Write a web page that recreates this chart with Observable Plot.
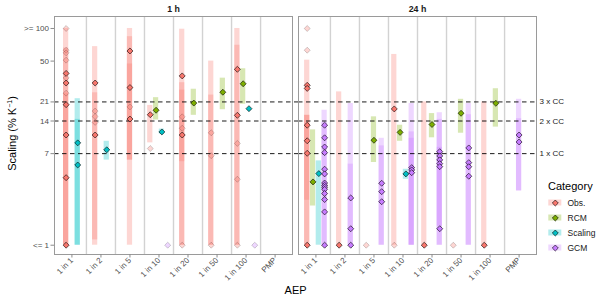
<!DOCTYPE html>
<html><head><meta charset="utf-8">
<script src="https://cdn.jsdelivr.net/npm/d3@7"></script>
<script src="https://cdn.jsdelivr.net/npm/@observablehq/plot@0.6"></script>
<style>
body{margin:0;background:#fff;font-family:"Liberation Sans",Arial,sans-serif;}
#wrap{position:relative;width:600px;height:302px;overflow:hidden;}
.ov{position:absolute;white-space:nowrap;color:#000;line-height:1;}
sup{font-size:7px;vertical-align:4px;line-height:0;}
</style></head><body>
<div id="wrap"></div>
<script>
const facets = ["1 h", "24 h"];
const aeps = ["1 in 1", "1 in 2", "1 in 5", "1 in 10", "1 in 20", "1 in 50", "1 in 100", "PMP"];
const categories = ["Obs.", "RCM", "Scaling", "GCM"];
const categoryColors = ["#F8766D", "#7CAE00", "#00BFC4", "#C77CFF"];
const yTicks = [1, 7, 14, 21, 50, 100];
const yTickLabels = ["<= 1", "7", "14", "21", "50", ">= 100"];
const ccLevels = [7, 14, 21];
const ccLabels = ["1 x CC", "2 x CC", "3 x CC"];

// [duration, AEP, category, low, high]
const rangeRows = [
  ["1 h","1 in 1","Obs.",1,100], ["1 h","1 in 1","Obs.",1,66], ["1 h","1 in 1","Obs.",1,25],
  ["1 h","1 in 1","Scaling",1,22.5], ["1 h","1 in 1","Scaling",1,14.5],
  ["1 h","1 in 2","Obs.",1,68], ["1 h","1 in 2","Obs.",1.12,25.5],
  ["1 h","1 in 2","Scaling",6.1,9.1],
  ["1 h","1 in 5","Obs.",1,100], ["1 h","1 in 5","Obs.",6.1,84], ["1 h","1 in 5","Obs.",6.1,47],
  ["1 h","1 in 10","Obs.",8.8,19.5], ["1 h","1 in 10","RCM",14.3,23], ["1 h","1 in 10","Scaling",10.6,11.8],
  ["1 h","1 in 20","Obs.",1,98.5], ["1 h","1 in 20","Obs.",1,31.6], ["1 h","1 in 20","Obs.",5.9,27],
  ["1 h","1 in 20","RCM",15.8,27.5],
  ["1 h","1 in 50","Obs.",1,50], ["1 h","1 in 50","Obs.",1,24.3], ["1 h","1 in 50","RCM",17.8,34.8],
  ["1 h","1 in 100","Obs.",1,100], ["1 h","1 in 100","Obs.",1,70], ["1 h","1 in 100","RCM",20,42.5],
  ["24 h","1 in 1","Obs.",1,51], ["24 h","1 in 1","Obs.",1,15.8], ["24 h","1 in 1","Obs.",2.6,15.8],
  ["24 h","1 in 1","RCM",2.3,11.6], ["24 h","1 in 1","Scaling",1,6.0],
  ["24 h","1 in 1","GCM",1,17.6], ["24 h","1 in 1","GCM",1,13.5],
  ["24 h","1 in 2","Obs.",1,26], ["24 h","1 in 2","GCM",1,20.3], ["24 h","1 in 2","GCM",1,5.6],
  ["24 h","1 in 5","RCM",5.8,15.3], ["24 h","1 in 5","GCM",1,9.7], ["24 h","1 in 5","GCM",1,8.25],
  ["24 h","1 in 10","Obs.",1,57.6], ["24 h","1 in 10","RCM",9.1,12.8], ["24 h","1 in 10","Scaling",4.06,5.02],
  ["24 h","1 in 10","GCM",1,20.3], ["24 h","1 in 10","GCM",1,11.1], ["24 h","1 in 10","GCM",1,9.7],
  ["24 h","1 in 20","Obs.",1,21], ["24 h","1 in 20","RCM",9.8,16.4],
  ["24 h","1 in 20","GCM",1,16.7], ["24 h","1 in 20","GCM",1,14.5], ["24 h","1 in 20","GCM",1.5,8],
  ["24 h","1 in 50","RCM",10.8,22.2], ["24 h","1 in 50","GCM",1,20.3], ["24 h","1 in 50","GCM",1,16],
  ["24 h","1 in 100","Obs.",1,21], ["24 h","1 in 100","RCM",12.3,27.8],
  ["24 h","PMP","GCM",3.17,22.2], ["24 h","PMP","GCM",3.17,14.7]
];

// [duration, AEP, category, value, solid]
const pointRows = [
  ["1 h","1 in 1","Obs.",100,false], ["1 h","1 in 1","Obs.",63,false], ["1 h","1 in 1","Obs.",59.6,false],
  ["1 h","1 in 1","Obs.",51,false], ["1 h","1 in 1","Obs.",35,false], ["1 h","1 in 1","Obs.",25.3,false],
  ["1 h","1 in 1","Obs.",38.5,true], ["1 h","1 in 1","Obs.",31.4,true], ["1 h","1 in 1","Obs.",19.8,true],
  ["1 h","1 in 1","Obs.",10.4,true], ["1 h","1 in 1","Obs.",4.2,true], ["1 h","1 in 1","Obs.",1,true],
  ["1 h","1 in 1","Scaling",8.8,true], ["1 h","1 in 1","Scaling",5.5,true],
  ["1 h","1 in 2","Obs.",31.4,true], ["1 h","1 in 2","Obs.",10.4,true],
  ["1 h","1 in 2","Obs.",17.3,false], ["1 h","1 in 2","Obs.",15.4,false], ["1 h","1 in 2","Obs.",13.6,false],
  ["1 h","1 in 2","Scaling",7.6,true],
  ["1 h","1 in 5","Obs.",62,true], ["1 h","1 in 5","Obs.",28.5,true], ["1 h","1 in 5","Obs.",14.6,true],
  ["1 h","1 in 5","Obs.",18.9,false],
  ["1 h","1 in 10","Obs.",16,true], ["1 h","1 in 10","Obs.",7.8,false],
  ["1 h","1 in 10","RCM",17.6,true], ["1 h","1 in 10","Scaling",11.1,true], ["1 h","1 in 10","GCM",1,false],
  ["1 h","1 in 20","Obs.",36.5,true], ["1 h","1 in 20","Obs.",10.4,true],
  ["1 h","1 in 20","Obs.",15.3,false], ["1 h","1 in 20","Obs.",12,false], ["1 h","1 in 20","Obs.",1,false],
  ["1 h","1 in 20","RCM",20.5,true],
  ["1 h","1 in 50","Obs.",10.9,false], ["1 h","1 in 50","Obs.",6.7,false], ["1 h","1 in 50","Obs.",1,false],
  ["1 h","1 in 50","RCM",25.8,true],
  ["1 h","1 in 100","Obs.",42,true], ["1 h","1 in 100","Obs.",15.8,true],
  ["1 h","1 in 100","Obs.",8.7,false], ["1 h","1 in 100","Obs.",4.06,false], ["1 h","1 in 100","Obs.",1,false],
  ["1 h","1 in 100","RCM",30.9,true], ["1 h","1 in 100","Scaling",18.2,true], ["1 h","1 in 100","GCM",1,false],
  ["24 h","1 in 1","Obs.",100,false], ["24 h","1 in 1","Obs.",63,false],
  ["24 h","1 in 1","Obs.",29.9,true], ["24 h","1 in 1","Obs.",28,true], ["24 h","1 in 1","Obs.",12.8,true],
  ["24 h","1 in 1","Obs.",9.2,true], ["24 h","1 in 1","Obs.",7.05,true], ["24 h","1 in 1","Obs.",1,true],
  ["24 h","1 in 1","RCM",3.84,true], ["24 h","1 in 1","Scaling",4.58,true],
  ["24 h","1 in 1","GCM",12.8,true], ["24 h","1 in 1","GCM",9.8,true], ["24 h","1 in 1","GCM",8.06,true],
  ["24 h","1 in 1","GCM",7.15,true], ["24 h","1 in 1","GCM",5.03,true], ["24 h","1 in 1","GCM",4.55,true],
  ["24 h","1 in 1","GCM",3.75,true], ["24 h","1 in 1","GCM",3.57,true], ["24 h","1 in 1","GCM",3.43,true],
  ["24 h","1 in 1","GCM",3.28,true], ["24 h","1 in 1","GCM",3.0,true], ["24 h","1 in 1","GCM",2.64,true],
  ["24 h","1 in 1","GCM",2.03,true], ["24 h","1 in 1","GCM",1,true],
  ["24 h","1 in 2","Obs.",1,true], ["24 h","1 in 2","GCM",2.73,true], ["24 h","1 in 2","GCM",1.42,true],
  ["24 h","1 in 2","GCM",1,true],
  ["24 h","1 in 5","Obs.",1,false], ["24 h","1 in 5","RCM",9.3,true],
  ["24 h","1 in 5","GCM",3.73,true], ["24 h","1 in 5","GCM",3.12,true], ["24 h","1 in 5","GCM",2.52,true],
  ["24 h","1 in 10","Obs.",18.1,true], ["24 h","1 in 10","Obs.",1,false], ["24 h","1 in 10","RCM",11.0,true],
  ["24 h","1 in 10","Scaling",4.55,true],
  ["24 h","1 in 10","GCM",5.2,true], ["24 h","1 in 10","GCM",4.95,true], ["24 h","1 in 10","GCM",4.67,true],
  ["24 h","1 in 20","Obs.",1,true], ["24 h","1 in 20","RCM",13.0,true],
  ["24 h","1 in 20","GCM",7.3,true], ["24 h","1 in 20","GCM",6.66,true], ["24 h","1 in 20","GCM",6.13,true],
  ["24 h","1 in 20","GCM",5.66,true], ["24 h","1 in 20","GCM",5.31,true], ["24 h","1 in 20","GCM",1.42,true],
  ["24 h","1 in 50","Obs.",1,false], ["24 h","1 in 50","RCM",16.5,true],
  ["24 h","1 in 50","GCM",7.9,true], ["24 h","1 in 50","GCM",5.78,true], ["24 h","1 in 50","GCM",5.3,true],
  ["24 h","1 in 50","GCM",4.33,true],
  ["24 h","1 in 100","Obs.",1,true], ["24 h","1 in 100","RCM",20.4,true],
  ["24 h","PMP","GCM",10.4,true], ["24 h","PMP","GCM",8.97,true]
];

// dodge categories present within each duration / AEP (like position_dodge, width 0.8)
const key = (f, a) => f + "|" + a;
const present = new Map();
for (const r of [...rangeRows, ...pointRows]) {
  const k = key(r[0], r[1]);
  if (!present.has(k)) present.set(k, new Set());
  present.get(k).add(r[2]);
}
function xPos(f, a, c) {
  const cats = categories.filter(k => present.get(key(f, a)).has(k));
  const n = cats.length, j = cats.indexOf(c), w = 0.8 / n;
  return aeps.indexOf(a) + 1 + (j - (n - 1) / 2) * w;
}
const ranges = rangeRows.map(([facet, aep, cat, lo, hi]) => ({facet, aep, cat, lo, hi, x: xPos(facet, aep, cat)}));
const points = pointRows.map(([facet, aep, cat, value, solid]) => ({facet, aep, cat, value, solid, x: xPos(facet, aep, cat)}))
  .sort((a, b) => a.solid - b.solid);
const separators = d3.range(1.5, aeps.length, 1);
const aepIdx = d3.range(1, aeps.length + 1);
const ccRows = facets.flatMap(f => ccLevels.map((v, i) => ({facet: f, v, label: ccLabels[i]})));
const halfBar = 0.09;
const font = "Liberation Sans, Arial, sans-serif";

const chart = Plot.plot({
  width: 600, height: 302,
  marginLeft: 54, marginRight: 63, marginTop: 16, marginBottom: 48,
  style: {fontFamily: font, background: "white", overflow: "visible"},
  fx: {domain: facets, paddingInner: 0.0235, paddingOuter: 0, axis: null, label: null},
  x: {type: "linear", domain: [0.4, 8.6], axis: null},
  y: {type: "log", domain: [0.821, 129], axis: null},
  color: {domain: categories, range: categoryColors},
  marks: [
    Plot.ruleX(separators, {x: d => d, stroke: "#d2d2d2", strokeWidth: 1.4}),
    Plot.rect(ranges, {fx: "facet", x1: d => d.x - halfBar, x2: d => d.x + halfBar, y1: "lo", y2: "hi", fill: "cat", fillOpacity: 0.3}),
    Plot.ruleY(ccRows.filter(d => d.facet === "1 h"), {fx: "facet", y: "v", stroke: "black", strokeWidth: 0.9, strokeDasharray: "4.5,3.5", insetRight: -6}),
    Plot.ruleY(ccRows.filter(d => d.facet === "24 h"), {fx: "facet", y: "v", stroke: "black", strokeWidth: 0.9, strokeDasharray: "4.5,3.5"}),
    Plot.frame({stroke: "#9a9a9a", strokeWidth: 1}),
    Plot.dot(points, {fx: "facet", x: "x", y: "value", symbol: "diamond2", r: 2.7, fill: "cat", stroke: "black", strokeWidth: 0.6,
      fillOpacity: d => d.solid ? 1 : 0.3, strokeOpacity: d => d.solid ? 1 : 0.3}),
    Plot.text(ccRows.filter(d => d.facet === "24 h"), {fx: "facet", y: "v", x: () => 8.6, text: "label", textAnchor: "start", dx: 3, fontSize: 8, fill: "#1a1a1a"}),
    Plot.text(facets, {fx: d => d, text: d => d, frameAnchor: "top", lineAnchor: "middle", dy: -7.5, fontWeight: "bold", fontSize: 8.8, fill: "#1a1a1a"}),
    Plot.axisY(yTicks, {text: d => yTickLabels[yTicks.indexOf(d)], tickSize: 3.5, tickPadding: 2, fontSize: 8, fill: "#4d4d4d", stroke: "#8c8c8c", label: null}),
    Plot.axisX(aepIdx, {text: d => aeps[d - 1], tickRotate: -45, tickSize: 3.5, tickPadding: 1, fontSize: 8, fill: "#4d4d4d", stroke: "#8c8c8c", label: null})
  ]
});
const wrap = document.getElementById("wrap");
wrap.appendChild(chart);

// axis titles
const yt = document.createElement("div");
yt.className = "ov";
yt.style.cssText = "left:-88px;top:128px;width:200px;text-align:center;font-size:11px;transform:rotate(-90deg);transform-origin:center;";
yt.innerHTML = "Scaling (% K<sup>−1</sup>)";
wrap.appendChild(yt);
const xt = document.createElement("div");
xt.className = "ov";
xt.style.cssText = "left:195.6px;top:285px;width:200px;text-align:center;font-size:11px;";
xt.textContent = "AEP";
wrap.appendChild(xt);

// legend
const lt = document.createElement("div");
lt.className = "ov";
lt.style.cssText = "left:548px;top:180.5px;font-size:11px;";
lt.textContent = "Category";
wrap.appendChild(lt);
const legend = Plot.plot({
  width: 54, height: 60, margin: 0,
  style: {fontFamily: font, background: "transparent", overflow: "visible"},
  x: {domain: [0, 54], range: [0, 54], axis: null},
  y: {type: "band", domain: categories, range: [0, 60], padding: 0, axis: null},
  color: {domain: categories, range: categoryColors},
  marks: [
    Plot.barX(categories, {x1: () => 2.3, x2: () => 15.3, y: d => d, fill: d => d, fillOpacity: 0.3, insetTop: 4.5, insetBottom: 4.5}),
    Plot.dot(categories, {x: () => 8.8, y: d => d, symbol: "diamond2", r: 2.7, fill: d => d, stroke: "black", strokeWidth: 0.6}),
    Plot.text(categories, {x: () => 21, y: d => d, text: d => d, textAnchor: "start", fontSize: 8.5, fill: "#1a1a1a"})
  ]
});
legend.style.position = "absolute";
legend.style.left = "546px";
legend.style.top = "195px";
wrap.appendChild(legend);
</script>
</body></html>
